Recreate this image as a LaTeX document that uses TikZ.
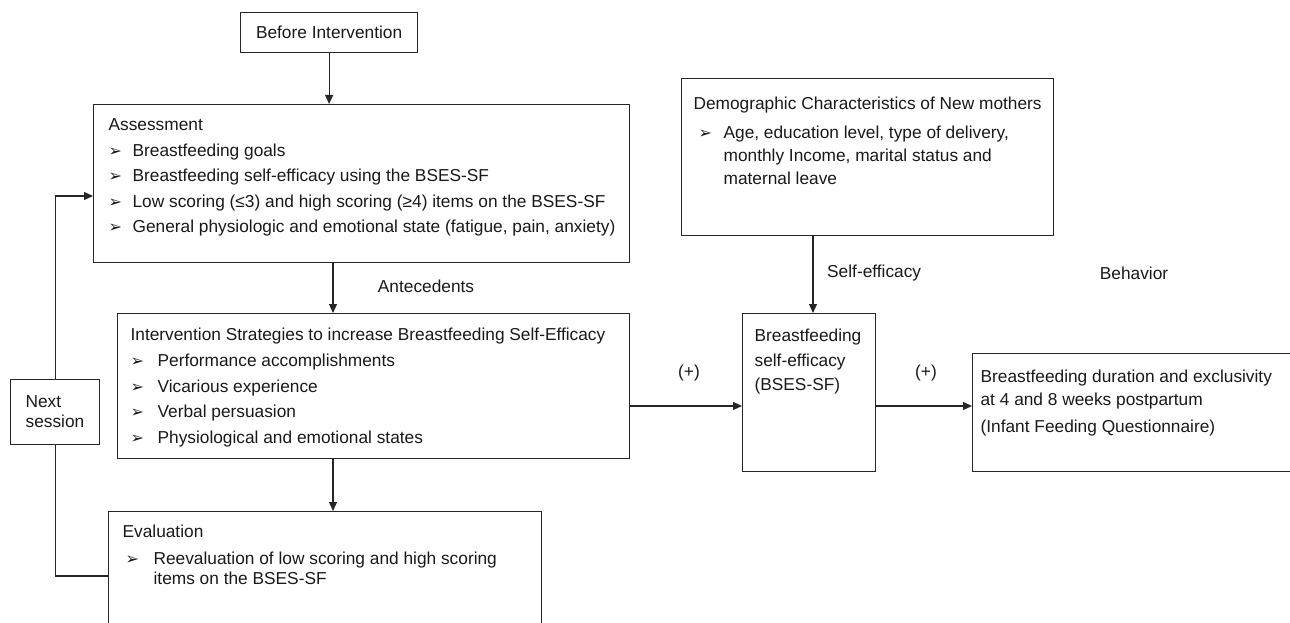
\documentclass[tikz,border=0pt]{standalone}
\usepackage{fontspec}
\setmainfont{Liberation Sans}
\newfontfamily\dejavu{DejaVu Sans}
\usetikzlibrary{arrows.meta}
\newcommand{\bul}{{\dejavu\fontsize{16}{16}\selectfont\symbol{"27A2}}}
% bullet line: hang, bullet shift, text
\newcommand{\itm}[3]{\par\hangindent=#1pt\hangafter=1\noindent\makebox[#1pt][l]{\hspace*{#2pt}\bul}#3}
% box text: width, height, left pad, first baseline, baselineskip, parskip, text
\newcommand{\boxtext}[7]{\parbox[c][#2pt][t]{#1pt}{\fontsize{17.3}{#5}\selectfont\leftskip=#3pt\parindent=0pt\parskip=#6pt\rule{0pt}{#4pt}#7}}

\begin{document}
\begin{tikzpicture}[x=1pt,y=-1pt,font=\fontsize{17.3}{21}\selectfont,text=black!90,
  box/.style={draw=black!85,line width=1.2pt,inner sep=0pt,anchor=north west},
  conn/.style={draw=black!85,line width=1.2pt},
  >={Triangle[length=9pt,width=8pt]},
  lbl/.style={inner sep=0pt}]
\useasboundingbox (0,0) rectangle (1290,623);
\clip (0,0) rectangle (1290,623);
% left column
\node[box,minimum width=177pt,minimum height=40pt] (before) at (240,12) {Before Intervention};
\node[box] (assess) at (93,104) {\boxtext{536}{158}{15}{26}{25.5}{0}{Assessment
  \itm{24}{0}{Breastfeeding goals}
  \itm{24}{0}{Breastfeeding self-efficacy using the BSES-SF}
  \itm{24}{0}{Low scoring (≤3) and high scoring (≥4) items on the BSES-SF}
  \itm{24}{0}{General physiologic and emotional state (fatigue, pain, anxiety)}}};
\node[box] (interv) at (117,313) {\boxtext{512}{145}{13}{27}{25.7}{0}{Intervention Strategies to increase Breastfeeding Self-Efficacy
  \itm{27}{0}{Performance accomplishments}
  \itm{27}{0}{Vicarious experience}
  \itm{27}{0}{Verbal persuasion}
  \itm{27}{0}{Physiological and emotional states}}};
\node[box] (evalu) at (108,511) {\boxtext{433}{130}{14}{26}{20}{7}{Evaluation
  \itm{31}{3}{Reevaluation of low scoring and high scoring\newline items on the BSES-SF}}};
\node[box] (nexts) at (10,379) {\boxtext{89}{65}{15}{28}{20}{0}{Next\newline session}};
% right part
\node[box] (demog) at (681,78) {\boxtext{372}{157}{12}{31}{23}{6}{Demographic Characteristics of New mothers
  \itm{30}{5}{Age, education level, type of delivery,\newline monthly Income, marital status and\newline maternal leave}}};
\node[box] (bses) at (742,313) {\boxtext{133}{158}{12}{28}{24.5}{0}{Breastfeeding\newline self-efficacy\newline (BSES-SF)}};
\node[box] (outcome) at (972,353) {\boxtext{340}{118}{8}{29}{23}{4}{Breastfeeding duration and exclusivity\newline at 4 and 8 weeks postpartum\par (Infant Feeding Questionnaire)}};
% labels
\node[lbl] (antec) at (426,286) {Antecedents};
\node[lbl,anchor=west] (selfeff) at (827,273) {Self-efficacy};
\node[lbl] (behav) at (1134,273) {Behavior};
\node[lbl] (plusa) at (689,373) {(+)};
\node[lbl] (plusb) at (926,373) {(+)};
% connectors
\draw[conn,->] (before.south) -- (before.south |- assess.north);
\draw[conn,->] (assess.south -| 333,0) -- (interv.north -| 333,0);
\draw[conn,->] (interv.south -| 333,0) -- (evalu.north -| 333,0);
\draw[conn,->] (nexts.north) |- (assess.west |- 0,196);
\draw[conn] (nexts.south) |- (evalu.west |- 0,576);
\draw[conn,->] (demog.south -| 813,0) -- (bses.north -| 813,0);
\draw[conn,->] (interv.east |- 0,406) -- (bses.west |- 0,406);
\draw[conn,->] (bses.east |- 0,406) -- (outcome.west |- 0,406);
\end{tikzpicture}
\end{document}
